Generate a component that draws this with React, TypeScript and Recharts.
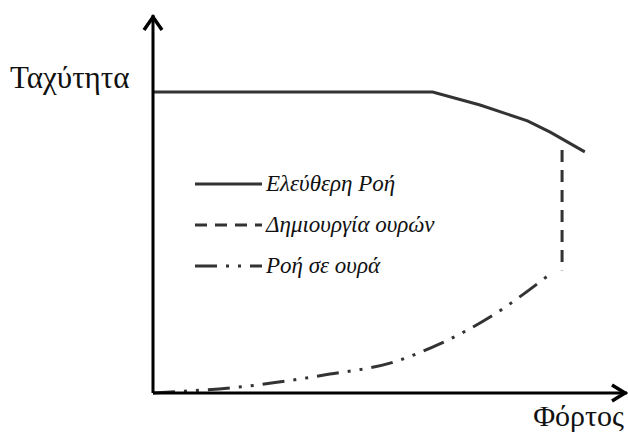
import React from "react";
import { LineChart, Line, XAxis, YAxis, Legend, ReferenceDot } from "recharts";

// load (x) and speed (y) in arbitrary units 0..100
const freeFlow = [
  { x: 0, y: 79.6 },
  { x: 59, y: 79.6 },
  { x: 69, y: 76.2 },
  { x: 79, y: 72 },
  { x: 83.8, y: 69 },
  { x: 91.1, y: 63.8 },
];

const queueForming = [
  { x: 86.3, y: 64.3 },
  { x: 86.3, y: 32.5 },
];

const queuedFlow = [
  { x: 0, y: 0 },
  { x: 20.5, y: 1.9 },
  { x: 37.3, y: 5 },
  { x: 50, y: 7.9 },
  { x: 60.5, y: 13 },
  { x: 71.1, y: 20.1 },
  { x: 83.3, y: 31 },
];

const seriesNames = ["Ελεύθερη Ροή", "Δημιουργία ουρών", "Ροή σε ουρά"];
const dashes = ["", "12 8", "22 9 3 9 3 9"];
const axisTitles = { y: "Ταχύτητα", x: "Φόρτος" };

const FONT = "Liberation Serif";
const INK = "#333";

function UpArrow({ cx, cy }: { cx?: number; cy?: number }) {
  if (cx == null || cy == null) return null;
  return (
    <polyline
      points={`${cx - 9},${cy + 15} ${cx},${cy + 2} ${cx + 9},${cy + 15}`}
      fill="none"
      stroke="#000"
      strokeWidth={3.5}
    />
  );
}

function RightArrow({ cx, cy }: { cx?: number; cy?: number }) {
  if (cx == null || cy == null) return null;
  return (
    <polyline
      points={`${cx - 15},${cy - 8} ${cx - 2},${cy} ${cx - 15},${cy + 8}`}
      fill="none"
      stroke="#000"
      strokeWidth={3.5}
    />
  );
}

function LegendBox({ payload }: { payload?: any[] }) {
  if (!payload) return null;
  const items = [...payload].sort(
    (a, b) => seriesNames.indexOf(a.value) - seriesNames.indexOf(b.value)
  );
  return (
    <div style={{ fontFamily: FONT, fontStyle: "italic", fontSize: 23, color: "#111" }}>
      {items.map((entry, i) => {
        const idx = seriesNames.indexOf(entry.value);
        return (
          <div key={i} style={{ display: "flex", alignItems: "center", height: 41 }}>
            <svg width={70} height={10} style={{ marginRight: 1 }}>
              <line
                x1={0}
                y1={5}
                x2={67}
                y2={5}
                stroke={INK}
                strokeWidth={3}
                strokeDasharray={dashes[idx] || undefined}
              />
            </svg>
            <span>{entry.value}</span>
          </div>
        );
      })}
    </div>
  );
}

export default function App() {
  return (
    <div style={{ position: "absolute", left: 0, top: 0, width: 628, height: 435, background: "#fff" }}>
      <LineChart
        width={628}
        height={435}
        margin={{ top: 15, right: 1, left: 152, bottom: 41 }}
      >
        <XAxis
          type="number"
          dataKey="x"
          domain={[0, 100]}
          tick={false}
          tickLine={false}
          height={1}
          axisLine={{ stroke: "#000", strokeWidth: 3 }}
        />
        <YAxis
          type="number"
          dataKey="y"
          domain={[0, 100]}
          tick={false}
          tickLine={false}
          width={1}
          axisLine={{ stroke: "#000", strokeWidth: 3 }}
        />
        <Legend
          content={<LegendBox />}
          layout="vertical"
          align="center"
          verticalAlign="middle"
          wrapperStyle={{ left: 195, top: 163, width: 340 }}
        />
        <Line
          data={freeFlow}
          dataKey="y"
          name={seriesNames[0]}
          type="linear"
          stroke={INK}
          strokeWidth={3}
          dot={false}
          isAnimationActive={false}
        />
        <Line
          data={queueForming}
          dataKey="y"
          name={seriesNames[1]}
          type="linear"
          stroke={INK}
          strokeWidth={3}
          strokeDasharray={dashes[1]}
          dot={false}
          isAnimationActive={false}
        />
        <Line
          data={queuedFlow}
          dataKey="y"
          name={seriesNames[2]}
          type="monotone"
          stroke={INK}
          strokeWidth={3}
          strokeDasharray={dashes[2]}
          dot={false}
          isAnimationActive={false}
        />
        <ReferenceDot x={0} y={100} r={0} shape={<UpArrow />} />
        <ReferenceDot x={100} y={0} r={0} shape={<RightArrow />} />
      </LineChart>
      <svg
        width={628}
        height={435}
        style={{ position: "absolute", left: 0, top: 0, pointerEvents: "none" }}
      >
        <text x={10} y={88} fontFamily={FONT} fontSize={31} fill="#111">
          {axisTitles.y}
        </text>
        <text x={624} y={426} textAnchor="end" fontFamily={FONT} fontSize={30} fill="#111">
          {axisTitles.x}
        </text>
      </svg>
    </div>
  );
}
